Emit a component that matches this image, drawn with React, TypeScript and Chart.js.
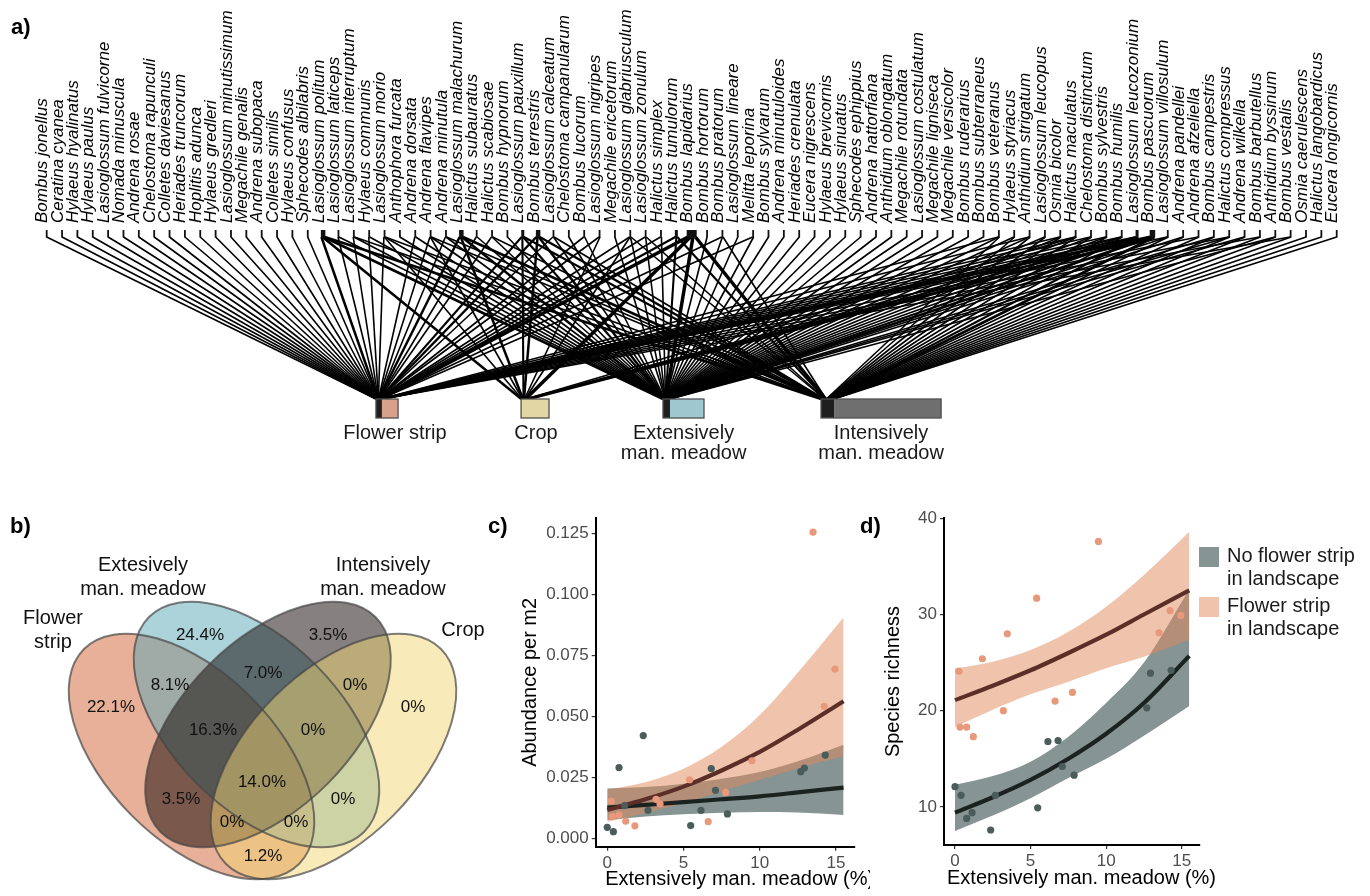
import React, { useEffect, useRef } from "react";
import { Chart, registerables } from "chart.js";

Chart.register(...registerables);

const FONT = "'Liberation Sans', Arial, Helvetica, sans-serif";

// ---------------- Panel a: bee species x habitat network ----------------
const SPECIES = [
  "Bombus jonellus", "Ceratina cyanea", "Hylaeus hyalinatus", "Hylaeus paulus", "Lasioglossum fulvicorne",
  "Nomada minuscula", "Andrena rosae", "Chelostoma rapunculi", "Colletes daviesanus", "Heriades truncorum",
  "Hoplitis adunca", "Hylaeus gredleri", "Lasioglossum minutissimum", "Megachile genalis", "Andrena subopaca",
  "Colletes similis", "Hylaeus confusus", "Sphecodes albilabris", "Lasioglossum politum", "Lasioglossum laticeps",
  "Lasioglossum interruptum", "Hylaeus communis", "Lasioglossum morio", "Anthophora furcata", "Andrena dorsata",
  "Andrena flavipes", "Andrena minutula", "Lasioglossum malachurum", "Halictus subauratus", "Halictus scabiosae",
  "Bombus hypnorum", "Lasioglossum pauxillum", "Bombus terrestris", "Lasioglossum calceatum", "Chelostoma campanularum",
  "Bombus lucorum", "Lasioglossum nigripes", "Megachile ericetorum", "Lasioglossum glabriusculum", "Lasioglossum zonulum",
  "Halictus simplex", "Halictus tumulorum", "Bombus lapidarius", "Bombus hortorum", "Bombus pratorum",
  "Lasioglossum lineare", "Melitta leporina", "Bombus sylvarum", "Andrena minutuloides", "Heriades crenulata",
  "Eucera nigrescens", "Hylaeus brevicornis", "Hylaeus sinuatus", "Sphecodes ephippius", "Andrena hattorfiana",
  "Anthidium oblongatum", "Megachile rotundata", "Lasioglossum costulatum", "Megachile ligniseca", "Megachile versicolor",
  "Bombus ruderarius", "Bombus subterraneus", "Bombus veteranus", "Hylaeus styriacus", "Anthidium strigatum",
  "Lasioglossum leucopus", "Osmia bicolor", "Halictus maculatus", "Chelostoma distinctum", "Bombus sylvestris",
  "Bombus humilis", "Lasioglossum leucozonium", "Bombus pascuorum", "Lasioglossum villosulum", "Andrena pandellei",
  "Andrena afzeliella", "Bombus campestris", "Halictus compressus", "Andrena wilkella", "Bombus barbutellus",
  "Anthidium byssinum", "Bombus vestalis", "Osmia caerulescens", "Halictus langobardicus", "Eucera longicornis",
];

// habitats each species was recorded in: F = flower strip, C = crop, E = extensive meadow, I = intensive meadow
const SPECIES_HABITATS = [
  "F", "F", "F", "F", "F", "F", "F", "F", "F", "F",
  "F", "F", "F", "F", "F", "F", "F", "F", "FCEI", "FE",
  "FEI", "FE", "FCEI", "E", "FE", "FCEI", "FEI", "FCEI", "FE", "FEI",
  "E", "FCEI", "FCEI", "FEI", "E", "FE", "FC", "E", "FCEI", "FEI",
  "FE", "FEI", "FCEI", "E", "FEI", "E", "FE", "E", "E", "E",
  "E", "E", "E", "E", "E", "E", "E", "E", "E", "E",
  "E", "E", "FEI", "EI", "FEI", "EI", "FEI", "FCEI", "FEI", "FEI",
  "FCEI", "FCEI", "FCEI", "FEI", "EI", "FI", "EI", "FEI", "EI", "FI",
  "EI", "FI", "I", "I", "I",
];

// relative abundance class of each species (1 = rare)
const SPECIES_ABUNDANCE = [
  1, 1, 1, 1, 1, 1, 1, 1, 1, 1,
  1, 1, 1, 1, 1, 1, 1, 1, 3, 1,
  1, 1, 1, 1, 1, 1, 1, 3, 1, 1,
  1, 2, 3, 1, 1, 1, 1, 1, 1, 1,
  1, 2, 6, 1, 1, 1, 1, 1, 1, 1,
  1, 1, 1, 1, 1, 1, 1, 1, 1, 1,
  1, 1, 1, 1, 1, 1, 1, 1, 1, 1,
  1, 2, 4, 1, 1, 1, 1, 1, 1, 1,
  1, 1, 1, 1, 1,
];

const HABITATS = ["Flower strip", "Crop", "Extensively\nman. meadow", "Intensively\nman. meadow"];

// ---------------- Panel b: Venn ----------------
const VENN_SETS = ["Flower\nstrip", "Extesively\nman. meadow", "Intensively\nman. meadow", "Crop"];
const VENN_PERCENT = [
  "22.1%", "24.4%", "3.5%", "0%", "8.1%", "7.0%", "0%", "16.3%",
  "0%", "3.5%", "14.0%", "0%", "0%", "0%", "1.2%",
];

// ---------------- Panels c & d ----------------
const X_TICKS = [0, 5, 10, 15];
const ABUND_TICKS = [0, 0.025, 0.05, 0.075, 0.1, 0.125];
const RICH_TICKS = [10, 20, 30, 40];

const NOFS_X = [0, 0.4, 0.77, 1.13, 2.36, 2.67, 5.47, 6.15, 6.82, 7.1, 7.88, 12.69, 12.93, 14.3];
const NOFS_ABUND = [0.0045, 0.0027, 0.029, 0.0134, 0.0421, 0.0115, 0.0052, 0.0115, 0.0286, 0.0197, 0.01, 0.0273, 0.0288, 0.0341];
const NOFS_RICH = [12.1, 11.2, 8.8, 9.4, 7.6, 11.2, 9.9, 16.8, 16.9, 14.2, 13.3, 20.3, 23.9, 24.2];

const FS_X = [0.26, 0.33, 0.77, 1.21, 1.81, 3.2, 3.46, 5.4, 6.62, 7.77, 9.49, 13.5, 14.23, 14.94];
const FS_ABUND = [0.0153, 0.0089, 0.0096, 0.007, 0.0051, 0.016, 0.0141, 0.024, 0.0068, 0.0188, 0.0318, 0.1255, 0.0541, 0.0694];
const FS_RICH = [24.1, 18.3, 18.3, 17.3, 25.4, 20.0, 28.0, 31.7, 21.0, 21.9, 37.6, 28.1, 30.4, 29.9];

const FIT_X = [0, 2.5, 5, 7.5, 10, 12.5, 15.5];
const ABUND_NOFS_FIT = [0.0126, 0.0137, 0.0148, 0.016, 0.0172, 0.0188, 0.0208];
const ABUND_NOFS_LO = [0.0075, 0.0089, 0.0099, 0.0105, 0.0108, 0.0106, 0.0096];
const ABUND_NOFS_HI = [0.0204, 0.021, 0.0224, 0.0244, 0.0272, 0.0316, 0.0384];
const ABUND_FS_FIT = [0.0116, 0.016, 0.0212, 0.0278, 0.0354, 0.0445, 0.0562];
const ABUND_FS_LO = [0.0068, 0.0104, 0.0145, 0.0193, 0.024, 0.0287, 0.0336];
const ABUND_FS_HI = [0.02, 0.023, 0.0285, 0.0375, 0.0505, 0.068, 0.0905];

const RICH_NOFS_FIT = [9.4, 11.0, 12.8, 15.0, 17.6, 20.8, 25.7];
const RICH_NOFS_LO = [7.5, 9.1, 10.9, 13.0, 15.0, 17.4, 20.5];
const RICH_NOFS_HI = [12.3, 13.2, 14.7, 17.3, 20.8, 25.0, 32.6];
const RICH_FS_FIT = [21.1, 22.6, 24.2, 26.0, 27.9, 30.0, 32.5];
const RICH_FS_LO = [18.3, 20.1, 21.7, 23.0, 24.4, 25.6, 27.4];
const RICH_FS_HI = [24.4, 25.1, 26.3, 28.2, 30.8, 34.1, 38.6];

const LEGEND_LABELS = ["No flower strip\nin landscape", "Flower strip\nin landscape"];

// ---------------- layout / style (not data) ----------------
const SPACING_PX = 15.358;
const BOX_PX: Record<number, number> = { 1: 1.8, 2: 3, 3: 4.5, 4: 5.5, 6: 10 };
const LINK_PX: Record<number, number> = { 1: 1.6, 2: 2.1, 3: 2.5, 4: 2.9, 6: 3.5 };

const HABITAT_LAYOUT = [
  { code: "F", start: 21.44, dark: 0.39, end: 22.88, span: 0.39, labelAt: 22.68, fill: "#d8a18b" },
  { code: "C", start: 30.89, dark: 0.0, end: 32.71, span: 0.45, labelAt: 31.86, fill: "#e1d6a4" },
  { code: "E", start: 40.13, dark: 0.46, end: 42.8, span: 0.46, labelAt: 41.47, fill: "#9ec7cf" },
  { code: "I", start: 50.42, dark: 0.85, end: 58.24, span: 0.85, labelAt: 54.33, fill: "#6f6f6f" },
];

const VENN_ELLIPSES = [
  { cx: 191.5, cy: 276.5, rot: Math.PI / 4, fill: "rgba(209,97,49,0.5)" },
  { cx: 256.5, cy: 244.5, rot: Math.PI / 4, fill: "rgba(89,165,181,0.5)" },
  { cx: 268, cy: 244.5, rot: -Math.PI / 4, fill: "rgba(13,3,1,0.5)" },
  { cx: 333.5, cy: 276.5, rot: -Math.PI / 4, fill: "rgba(241,213,115,0.5)" },
];
const VENN_AXES = { a: 152, b: 84 };
const VENN_PCT_POS = [
  [111, 227], [200, 155], [328, 155], [413, 227], [170, 205], [263, 193], [355, 205], [213, 250],
  [313, 250], [181, 319], [262, 302], [343, 319], [232, 342], [296, 342], [263, 376],
];
const VENN_SET_POS = [[53, 138], [143, 85], [383, 85], [463, 150]];

const COL = {
  noPt: "#4a5d5b",
  fsPt: "#e8987b",
  noLine: "#1b2321",
  fsLine: "#5b2f27",
  noBand: "rgba(15,41,41,0.5)",
  fsBand: "rgba(225,137,89,0.5)",
};

// ---------------- chart builders ----------------
const boxPx = (i: number) => BOX_PX[SPECIES_ABUNDANCE[i]] ?? 1.8;
const linkPx = (i: number) => LINK_PX[SPECIES_ABUNDANCE[i]] ?? 1.6;

const networkPlugin = {
  id: "networkDecor",
  afterDatasetsDraw(chart: any) {
    const { ctx } = chart;
    const x = chart.scales.x;
    const y = chart.scales.y;
    const yTop = y.getPixelForValue(1);
    const yBot = y.getPixelForValue(0);
    ctx.save();
    SPECIES.forEach((name, i) => {
      const cx = x.getPixelForValue(i);
      const w = boxPx(i);
      ctx.fillStyle = "#111";
      ctx.fillRect(cx - w / 2, yTop - 7, w, 7.5);
      ctx.save();
      ctx.translate(cx + 0.6, yTop - 14);
      ctx.rotate(-Math.PI / 2);
      ctx.font = `italic 17px ${FONT}`;
      ctx.textAlign = "left";
      ctx.textBaseline = "alphabetic";
      ctx.fillStyle = "#000";
      ctx.fillText(name, 0, 0);
      ctx.restore();
    });
    HABITAT_LAYOUT.forEach((hab, h) => {
      const x0 = x.getPixelForValue(hab.start);
      const x1 = x.getPixelForValue(hab.start + hab.dark);
      const x2 = x.getPixelForValue(hab.end);
      const hgt = 19;
      ctx.fillStyle = "#1e1e1e";
      ctx.fillRect(x0, yBot, x1 - x0, hgt);
      ctx.fillStyle = hab.fill;
      ctx.fillRect(x1, yBot, x2 - x1, hgt);
      ctx.strokeStyle = "#505050";
      ctx.lineWidth = 1.3;
      ctx.strokeRect(x0, yBot, x2 - x0, hgt);
      ctx.fillStyle = "#1a1a1a";
      ctx.font = `20px ${FONT}`;
      ctx.textAlign = "center";
      ctx.textBaseline = "middle";
      HABITATS[h].split("\n").forEach((line, li) => {
        ctx.fillText(line, x.getPixelForValue(hab.labelAt), yBot + 34 + li * 20.5);
      });
    });
    ctx.restore();
  },
};

function buildNetwork() {
  const datasets: any[] = [];
  HABITAT_LAYOUT.forEach((hab) => {
    const members = SPECIES.map((_, i) => i).filter((i) => SPECIES_HABITATS[i].includes(hab.code));
    members.forEach((i, k) => {
      const codes = SPECIES_HABITATS[i];
      const n = codes.length;
      const j = codes.indexOf(hab.code);
      const bw = boxPx(i) / SPACING_PX;
      const sx = i - bw / 2 + ((j + 0.5) / n) * bw;
      const ex = hab.start + ((k + 0.5) / members.length) * hab.span;
      datasets.push({
        data: [{ x: sx, y: 1 }, { x: ex, y: 0 }],
        borderColor: "#000",
        borderWidth: linkPx(i),
        pointRadius: 0,
        pointHoverRadius: 0,
        pointHitRadius: 0,
        tension: 0,
        fill: false,
        clip: false,
      });
    });
  });
  return {
    type: "line",
    data: { datasets },
    options: {
      animation: false,
      responsive: false,
      maintainAspectRatio: false,
      events: [],
      layout: { padding: { left: 39, right: 25.6, top: 237, bottom: 71 } },
      plugins: { legend: { display: false }, tooltip: { enabled: false } },
      scales: {
        x: { type: "linear", min: -0.5, max: SPECIES.length - 0.5, display: false },
        y: { type: "linear", min: 0, max: 1, display: false },
      },
    },
    plugins: [networkPlugin],
  };
}

const vennPlugin = {
  id: "vennDraw",
  afterDraw(chart: any) {
    const { ctx } = chart;
    const x = chart.scales.x;
    const y = chart.scales.y;
    const len = (v: number) => x.getPixelForValue(v) - x.getPixelForValue(0);
    ctx.save();
    VENN_ELLIPSES.forEach((e) => {
      ctx.beginPath();
      ctx.ellipse(x.getPixelForValue(e.cx), y.getPixelForValue(e.cy), len(VENN_AXES.a), len(VENN_AXES.b), e.rot, 0, Math.PI * 2);
      ctx.fillStyle = e.fill;
      ctx.fill();
    });
    VENN_ELLIPSES.forEach((e) => {
      ctx.beginPath();
      ctx.ellipse(x.getPixelForValue(e.cx), y.getPixelForValue(e.cy), len(VENN_AXES.a), len(VENN_AXES.b), e.rot, 0, Math.PI * 2);
      ctx.strokeStyle = "rgba(70,70,70,0.7)";
      ctx.lineWidth = 2;
      ctx.stroke();
    });
    ctx.fillStyle = "#111";
    ctx.textAlign = "center";
    ctx.textBaseline = "middle";
    ctx.font = `17px ${FONT}`;
    VENN_PERCENT.forEach((t, i) => {
      ctx.fillText(t, x.getPixelForValue(VENN_PCT_POS[i][0]), y.getPixelForValue(VENN_PCT_POS[i][1]));
    });
    ctx.font = `20px ${FONT}`;
    VENN_SETS.forEach((t, i) => {
      t.split("\n").forEach((line, li) => {
        ctx.fillText(line, x.getPixelForValue(VENN_SET_POS[i][0]), y.getPixelForValue(VENN_SET_POS[i][1] + li * 24));
      });
    });
    ctx.restore();
  },
};

function buildVenn() {
  return {
    type: "scatter",
    data: { datasets: [{ data: [] }] },
    options: {
      animation: false,
      responsive: false,
      maintainAspectRatio: false,
      events: [],
      layout: { padding: 0 },
      plugins: { legend: { display: false }, tooltip: { enabled: false } },
      scales: {
        x: { type: "linear", min: 0, max: 500, display: false },
        y: { type: "linear", min: 0, max: 416, reverse: true, display: false },
      },
    },
    plugins: [vennPlugin],
  };
}

function buildRegression(p: any) {
  const pts = (xs: number[], ys: number[]) => xs.map((v, i) => ({ x: v, y: ys[i] }));
  const curve = (ys: number[]) => FIT_X.map((v, i) => ({ x: v, y: ys[i] }));
  const band = (ys: number[], color: string | null) => ({
    data: curve(ys),
    borderColor: "rgba(0,0,0,0)",
    borderWidth: 0,
    backgroundColor: color ?? "rgba(0,0,0,0)",
    fill: color ? "+1" : false,
    pointRadius: 0,
    cubicInterpolationMode: "monotone",
  });
  const datasets: any[] = [
    { data: pts(FS_X, p.fsY), showLine: false, pointRadius: 3.6, pointBackgroundColor: COL.fsPt, pointBorderWidth: 0, fill: false },
    { data: pts(NOFS_X, p.noY), showLine: false, pointRadius: 3.6, pointBackgroundColor: COL.noPt, pointBorderWidth: 0, fill: false },
    { data: curve(p.fsFit), borderColor: COL.fsLine, borderWidth: 4.2, pointRadius: 0, fill: false, cubicInterpolationMode: "monotone" },
    { data: curve(p.noFit), borderColor: COL.noLine, borderWidth: 4.2, pointRadius: 0, fill: false, cubicInterpolationMode: "monotone" },
    band(p.fsHi, COL.fsBand),
    band(p.fsLo, null),
    band(p.noHi, COL.noBand),
    band(p.noLo, null),
  ];
  const decor = {
    id: "regDecor",
    afterDraw(chart: any) {
      const { ctx, chartArea } = chart;
      ctx.save();
      ctx.fillStyle = "#000";
      ctx.font = `20px ${FONT}`;
      ctx.textAlign = "center";
      ctx.textBaseline = "middle";
      ctx.fillText("Extensively man. meadow (%)", chartArea.left + p.xTitleDx, chartArea.bottom + 33);
      if (p.legend) {
        const lx = chartArea.right - 1;
        const colors = [COL.noBand, COL.fsBand];
        LEGEND_LABELS.forEach((lab, k) => {
          const top = 67 + k * 50;
          ctx.fillStyle = colors[k];
          ctx.fillRect(lx, top, 20, 20);
          ctx.fillStyle = "#1a1a1a";
          ctx.textAlign = "left";
          lab.split("\n").forEach((line, li) => ctx.fillText(line, lx + 28, top + 9 + li * 23.5));
        });
      }
      ctx.restore();
    },
  };
  const tickFont = { size: 17, family: FONT };
  return {
    type: "line",
    data: { datasets },
    options: {
      animation: false,
      responsive: false,
      maintainAspectRatio: false,
      events: [],
      layout: { padding: { left: 0, top: 38, right: p.padRight, bottom: 0 } },
      plugins: { legend: { display: false }, tooltip: { enabled: false } },
      scales: {
        x: {
          type: "linear",
          min: p.xMin,
          max: p.xMax,
          afterBuildTicks: (s: any) => {
            s.ticks = X_TICKS.map((v) => ({ value: v }));
          },
          afterFit: (s: any) => {
            s.height = p.xAxisH;
          },
          grid: { display: true, drawOnChartArea: false, drawTicks: true, tickLength: 4, color: "#333", lineWidth: 1.2 },
          border: { display: true, color: "#000", width: 2 },
          ticks: { color: "#4d4d4d", font: tickFont, padding: 2, maxRotation: 0, minRotation: 0, autoSkip: false, callback: (v: any) => String(v) },
        },
        y: {
          type: "linear",
          min: p.yMin,
          max: p.yMax,
          afterBuildTicks: (s: any) => {
            s.ticks = p.yTicks.map((v: number) => ({ value: v }));
          },
          afterFit: (s: any) => {
            s.width = p.yAxisW;
          },
          grid: { display: true, drawOnChartArea: false, drawTicks: true, tickLength: 4, color: "#333", lineWidth: 1.2 },
          border: { display: true, color: "#000", width: 2 },
          ticks: { color: "#4d4d4d", font: tickFont, padding: 3, autoSkip: false, callback: p.yFmt },
          title: { display: true, text: p.yTitle, color: "#000", font: { size: 20, family: FONT }, padding: { top: p.yTitlePad, bottom: 0 } },
        },
      },
    },
    plugins: [decor],
  };
}

function ChartBox(props: { left: number; top: number; width: number; height: number; build: () => any }) {
  const ref = useRef<HTMLCanvasElement | null>(null);
  useEffect(() => {
    if (!ref.current) return;
    const chart = new Chart(ref.current, props.build());
    return () => chart.destroy();
  }, []);
  const { left, top, width, height } = props;
  return (
    <div style={{ position: "absolute", left, top, width, height }}>
      <canvas ref={ref} width={width} height={height} style={{ display: "block", width, height }} />
    </div>
  );
}

const letterStyle = (left: number, top: number): React.CSSProperties => ({
  position: "absolute",
  left,
  top,
  font: `bold 22px ${FONT}`,
  color: "#000",
  lineHeight: "25px",
});

export default function App() {
  useEffect(() => {
    document.body.style.margin = "0";
    document.body.style.background = "#fff";
  }, []);
  return (
    <div style={{ position: "relative", width: 1370, height: 896, overflow: "hidden", background: "#fff" }}>
      <ChartBox left={0} top={0} width={1370} height={470} build={buildNetwork} />
      <ChartBox left={0} top={480} width={500} height={416} build={buildVenn} />
      <ChartBox
        left={500}
        top={480}
        width={370}
        height={416}
        build={() =>
          buildRegression({
            noY: NOFS_ABUND, fsY: FS_ABUND,
            noFit: ABUND_NOFS_FIT, noLo: ABUND_NOFS_LO, noHi: ABUND_NOFS_HI,
            fsFit: ABUND_FS_FIT, fsLo: ABUND_FS_LO, fsHi: ABUND_FS_HI,
            xMin: -0.76, xMax: 16.25, yMin: -0.00344, yMax: 0.1313,
            yTicks: ABUND_TICKS, yFmt: (v: any) => Number(v).toFixed(3),
            yTitle: "Abundance per m2", yTitlePad: 18, yAxisW: 95.7, padRight: 15, xAxisH: 49.3,
            xTitleDx: 144, legend: false,
          })
        }
      />
      <ChartBox
        left={870}
        top={480}
        width={500}
        height={416}
        build={() =>
          buildRegression({
            noY: NOFS_RICH, fsY: FS_RICH,
            noFit: RICH_NOFS_FIT, noLo: RICH_NOFS_LO, noHi: RICH_NOFS_HI,
            fsFit: RICH_FS_FIT, fsLo: RICH_FS_LO, fsHi: RICH_FS_HI,
            xMin: -0.728, xMax: 16.21, yMin: 6.04, yMax: 40.03,
            yTicks: RICH_TICKS, yFmt: (v: any) => String(v),
            yTitle: "Species richness", yTitlePad: 11, yAxisW: 74, padRight: 170, xAxisH: 51,
            xTitleDx: 137.5, legend: true,
          })
        }
      />
      <div style={letterStyle(11, 14)}>a)</div>
      <div style={letterStyle(10, 513)}>b)</div>
      <div style={letterStyle(488, 513)}>c)</div>
      <div style={letterStyle(860, 513)}>d)</div>
    </div>
  );
}
